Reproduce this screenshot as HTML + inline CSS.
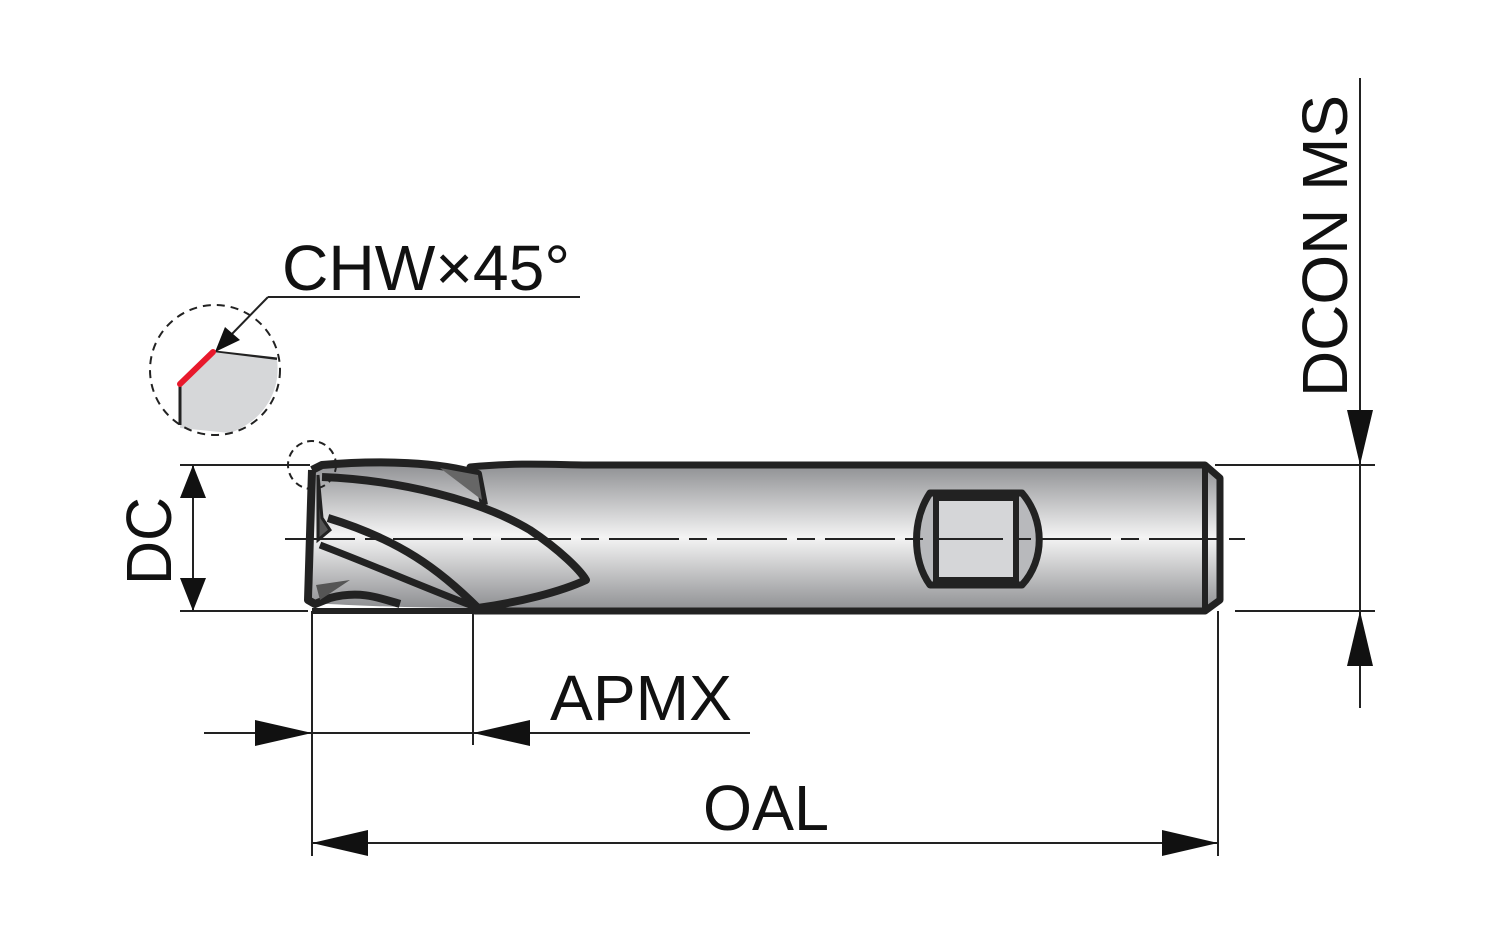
<!DOCTYPE html>
<html><head><meta charset="utf-8"><style>html,body{margin:0;padding:0;background:#fff}svg{display:block}</style></head>
<body>
<svg width="1500" height="936" viewBox="0 0 1500 936" xmlns="http://www.w3.org/2000/svg" font-family="Liberation Sans, sans-serif">
<defs>
<linearGradient id="g" x1="0" y1="0" x2="0" y2="1">
<stop offset="0" stop-color="#8e8f92"/>
<stop offset="0.5" stop-color="#f4f4f4"/>
<stop offset="1" stop-color="#8e8f92"/>
</linearGradient>
</defs>
<path d="M470,467 C520,462 560,465 590,465 L1205,465 L1220,478 L1220,600 L1205,611 L475,611 Z" fill="url(#g)" stroke="#222" stroke-width="7" stroke-linejoin="round"/>
<line x1="1205" y1="467" x2="1205" y2="609" stroke="#222" stroke-width="6"/>
<path d="M315,465 C380,460 440,463 478,474 L484,505 C540,530 570,560 585,580 C560,592 520,600 478,608 C420,608 360,606 312,603 Z" fill="url(#g)" stroke="none"/>
<path d="M312,470 L322,465 C380,460 440,462 478,474 L484,505" fill="none" stroke="#222" stroke-width="8" stroke-linejoin="round"/>
<path d="M440,468 L478,475 L482,500 Z" fill="#666"/>
<path d="M322,477 C400,480 480,500 530,530 C560,550 580,570 586,580 C560,592 520,602 478,608" fill="none" stroke="#222" stroke-width="8" stroke-linejoin="round"/>
<path d="M328,518 C400,540 440,570 478,608" fill="none" stroke="#222" stroke-width="8"/>
<path d="M320,545 C380,568 430,590 478,608" fill="none" stroke="#222" stroke-width="7"/>
<path d="M312,470 L308,600 L315,604 L330,598 C360,590 380,598 400,604" fill="none" stroke="#222" stroke-width="8" stroke-linejoin="round"/>
<path d="M318,475 L322,518 L330,530 L318,540 Z" fill="#555" stroke="#222" stroke-width="3"/>
<path d="M316,585 L350,580 L320,600 Z" fill="#555"/>
<line x1="312" y1="611" x2="480" y2="611" stroke="#222" stroke-width="6"/>
<path d="M930,493 L1022,493 C1045,520 1045,560 1022,585 L930,585 C912,560 912,520 930,493 Z" fill="#b8b9bc" stroke="#222" stroke-width="7" stroke-linejoin="round"/>
<rect x="936" y="498" width="80" height="82" fill="#d5d6d8" stroke="#222" stroke-width="6"/>
<line x1="285" y1="539" x2="1245" y2="539" stroke="#222" stroke-width="2" stroke-dasharray="70,10,18,10"/>
<g stroke="#222" stroke-width="2">
<line x1="180" y1="465" x2="310" y2="465"/>
<line x1="180" y1="611" x2="308" y2="611"/>
<line x1="193" y1="465" x2="193" y2="611"/>
<line x1="312" y1="611" x2="312" y2="856"/>
<line x1="473" y1="611" x2="473" y2="745"/>
<line x1="1218" y1="611" x2="1218" y2="856"/>
<line x1="204" y1="733" x2="750" y2="733"/>
<line x1="312" y1="843" x2="1218" y2="843"/>
<line x1="1360" y1="78" x2="1360" y2="708"/>
<line x1="1215" y1="465" x2="1375" y2="465"/>
<line x1="1235" y1="611" x2="1375" y2="611"/>
<polyline points="268,297 580,297" fill="none"/>
<line x1="268" y1="297" x2="230" y2="336"/>
<line x1="215" y1="352" x2="277" y2="359" stroke-width="3"/>
</g>
<g fill="#111">
<polygon points="193,465 180,498 206,498"/>
<polygon points="193,611 180,578 206,578"/>
<polygon points="312,733 255,720 255,746"/>
<polygon points="473,733 530,720 530,746"/>
<polygon points="312,843 368,830 368,856"/>
<polygon points="1218,843 1162,830 1162,856"/>
<polygon points="1360,465 1347,410 1373,410"/>
<polygon points="1360,611 1347,666 1373,666"/>
<polygon points="215,352 225,327 240,340"/>
</g>
<path d="M180,385 L213,352 L277,360 C281,390 265,420 230,433 L180,428 Z" fill="#d6d7d9"/>
<line x1="180" y1="385" x2="180" y2="425" stroke="#222" stroke-width="3"/>
<line x1="180" y1="384" x2="213" y2="352" stroke="#e8192c" stroke-width="6" stroke-linecap="round"/>
<circle cx="215" cy="370" r="65" fill="none" stroke="#222" stroke-width="2" stroke-dasharray="8,6"/>
<circle cx="312" cy="465" r="24" fill="none" stroke="#222" stroke-width="2" stroke-dasharray="7,5"/>
<g fill="#111" font-size="64">
<text x="282" y="290" textLength="288" lengthAdjust="spacingAndGlyphs">CHW×45°</text>
<text x="550" y="720" textLength="182" lengthAdjust="spacingAndGlyphs">APMX</text>
<text x="703" y="830" textLength="126" lengthAdjust="spacingAndGlyphs">OAL</text>
<text transform="translate(171,585) rotate(-90)" textLength="88" lengthAdjust="spacingAndGlyphs">DC</text>
<text transform="translate(1347,397) rotate(-90)" textLength="302" lengthAdjust="spacingAndGlyphs">DCON MS</text>
</g>
</svg>
</body></html>
